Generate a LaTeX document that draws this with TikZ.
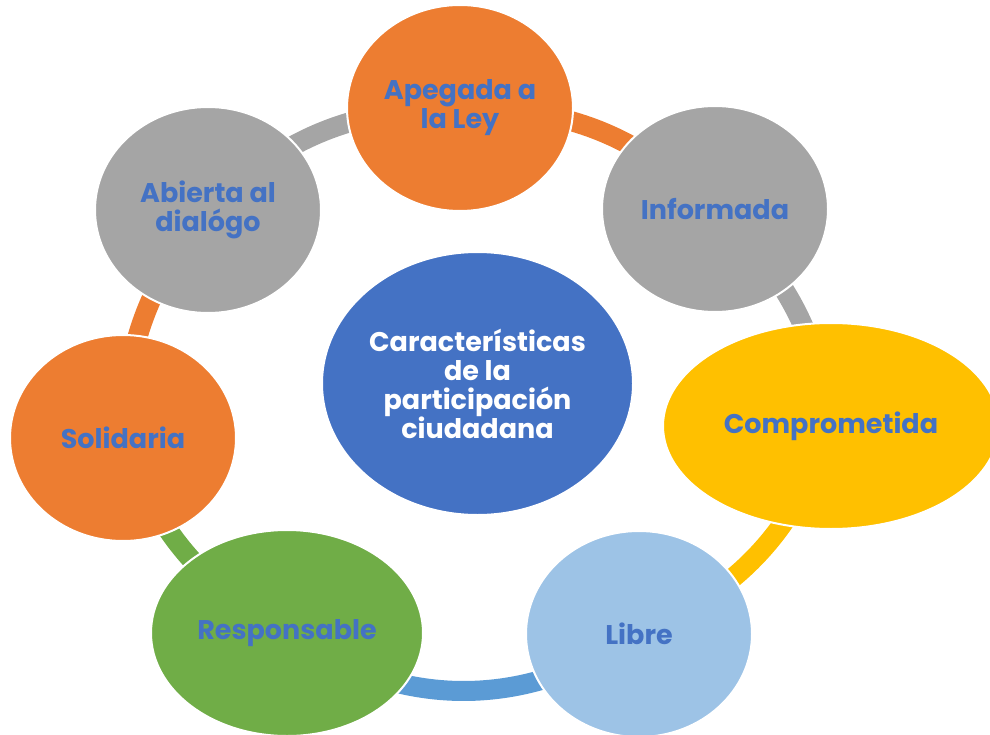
\documentclass[tikz,border=0pt]{standalone}
\usepackage{fontspec}
\setmainfont{Poppins}
\usetikzlibrary{shapes.geometric}
\pgfdeclarelayer{background}
\pgfsetlayers{background,main}
\definecolor{cOrange}{HTML}{ED7D31}
\definecolor{cGray}{HTML}{A5A5A5}
\definecolor{cYellow}{HTML}{FFC000}
\definecolor{cLight}{HTML}{9DC3E6}
\definecolor{cArcBlue}{HTML}{5B9BD5}
\definecolor{cGreen}{HTML}{70AD47}
\definecolor{cBlue}{HTML}{4472C4}
\begin{document}
\begin{tikzpicture}[x=1pt,y=1pt,
  bubble/.style={ellipse, draw=white, line width=2pt, inner sep=0pt, align=center,
    text=cBlue, font=\bfseries\fontsize{27}{29}\selectfont},
  ring/.style={line width=20pt}]
\useasboundingbox (0,0) rectangle (990,-735);
\clip (0,0) rectangle (990,-735);
\node[bubble, fill=cBlue, text=white, minimum width=311pt, minimum height=263pt] (center) at (477.5,-383.5) {Características\\de la\\participación\\ciudadana};
\node[bubble, fill=cOrange, minimum width=226pt, minimum height=206pt] (apegada) at (460,-108) {Apegada a\\la Ley};
\node[bubble, fill=cGray, minimum width=226pt, minimum height=206pt] (informada) at (715,-209) {Informada};
\node[bubble, fill=cYellow, minimum width=336pt, minimum height=206pt] (comprometida) at (831,-426) {Comprometida};
\node[bubble, fill=cLight, minimum width=226pt, minimum height=206pt] (libre) at (639,-634) {Libre};
\node[bubble, fill=cGreen, minimum width=272pt, minimum height=206pt] (responsable) at (287,-633) {Responsable};
\node[bubble, fill=cOrange, minimum width=226pt, minimum height=206pt] (solidaria) at (123,-438) {Solidaria};
\node[bubble, fill=cGray, minimum width=226pt, minimum height=206pt] (abierta) at (208,-210) {Abierta al\\dialógo};
\begin{pgfonlayer}{background}
\draw[ring, cOrange] (apegada.center) to[bend left=22] (informada.center);
\draw[ring, cGray] (informada.center) to[bend left=19] (comprometida.center);
\draw[ring, cYellow] (comprometida.center) to[bend left=23.6] (libre.center);
\draw[ring, cArcBlue] (libre.center) to[bend left=33.8] (responsable.center);
\draw[ring, cGreen] (responsable.center) to[bend left=20.4] (solidaria.center);
\draw[ring, cOrange] (solidaria.center) to[bend left=18.4] (abierta.center);
\draw[ring, cGray] (abierta.center) to[bend left=21.8] (apegada.center);
\end{pgfonlayer}
\end{tikzpicture}
\end{document}
